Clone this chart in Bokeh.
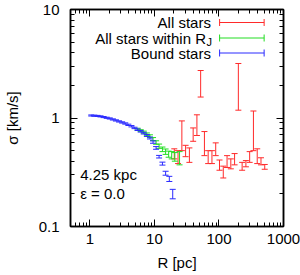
import numpy as np
from bokeh.plotting import figure
from bokeh.models import (ColumnDataSource, Whisker, TeeHead, LogAxis, FixedTicker,
                          CustomJSTickFormatter, Label, Arrow, Range1d)
from bokeh.embed import file_html
from bokeh.resources import INLINE

# ---------------- data ----------------
# All stars (red)
R_all = [20.3, 23.2, 26.6, 30.4, 34.8, 39.8, 45.5, 52.0, 59.5, 68.0, 77.8, 89.0, 101.9,
         116.6, 133.4, 152.6, 174.6, 199.7, 228.5, 261.4, 299.0, 342.0, 391.5, 448.0, 512.0]
sig_all = [0.47, 0.44, 0.72, 0.50, 0.46, 0.71, 0.88, 2.15, 0.60, 0.44, 0.44, 0.52, 0.37,
           0.32, 0.40, 0.38, 0.42, 2.18, 0.36, 0.38, 0.44, 0.83, 0.45, 0.40, 0.355]
err_all = [0.05, 0.06, 0.22, 0.06, 0.07, 0.10, 0.19, 0.59, 0.15, 0.06, 0.06, 0.07, 0.04,
           0.04, 0.05, 0.04, 0.05, 1.00, 0.03, 0.025, 0.05, 0.33, 0.07, 0.03, 0.018]

# All stars within R_J (green)
R_rj = [5.48, 6.12, 6.83, 7.63, 8.52, 9.51, 10.6, 11.8, 13.3, 14.9, 16.6, 18.5, 20.7, 24.5]
sig_rj = [0.79, 0.765, 0.74, 0.71, 0.68, 0.64, 0.595, 0.55, 0.515, 0.49, 0.465, 0.455, 0.44, 0.43]
err_rj = [0.015, 0.015, 0.017, 0.018, 0.02, 0.02, 0.022, 0.025, 0.025, 0.028, 0.03, 0.035, 0.04, 0.06]

# Bound stars (blue)
R_b = [1.05, 1.17, 1.31, 1.46, 1.63, 1.82, 2.03, 2.27, 2.53, 2.83, 3.16, 3.53, 3.94, 4.40,
       4.91, 5.48, 6.12, 6.83, 7.63, 8.52, 9.51, 10.6, 11.8, 13.3, 14.9, 17.0, 19.2]
sig_b = [1.055, 1.05, 1.045, 1.035, 1.02, 1.005, 0.99, 0.97, 0.95, 0.93, 0.91, 0.89, 0.865,
         0.84, 0.81, 0.78, 0.755, 0.725, 0.69, 0.655, 0.60, 0.53, 0.44, 0.38, 0.31, 0.275, 0.20]
err_b = [0.012, 0.012, 0.012, 0.012, 0.012, 0.012, 0.012, 0.012, 0.012, 0.012, 0.012, 0.012,
         0.012, 0.012, 0.012, 0.013, 0.013, 0.013, 0.014, 0.014, 0.015, 0.015, 0.012, 0.012,
         0.013, 0.015, 0.02]

x_ticks = [1, 10, 100, 1000]
y_ticks = [0.1, 1, 10]

RED, GREEN, BLUE = "#ff2a2a", "#22dd22", "#2a2aff"
FONT = "Liberation Sans"

# ---------------- figure ----------------
W, H = 300, 275
ML, MR, MT, MB = 63, 17, 9, 49
p = figure(width=W, height=H, x_axis_type="log", y_axis_type="log",
           x_range=Range1d(0.5, 1000), y_range=Range1d(0.1, 10),
           output_backend="svg", toolbar_location=None,
           min_border_left=ML, min_border_right=MR, min_border_top=MT, min_border_bottom=MB)
p.grid.visible = False
p.outline_line_color = "black"
p.outline_line_width = 1.5
p.background_fill_color = "white"
p.border_fill_color = "white"

x_minor = [m * d for d in (0.1, 1, 10, 100) for m in range(2, 10) if 0.5 <= m * d <= 1000]
y_minor = [m * d for d in (0.1, 1) for m in range(2, 10)]
xt = FixedTicker(ticks=x_ticks, minor_ticks=x_minor)
yt = FixedTicker(ticks=y_ticks, minor_ticks=y_minor)
fmt = CustomJSTickFormatter(code="return tick.toString();")
blank = CustomJSTickFormatter(code="return '';")


def style_axis(ax, show_labels):
    ax.major_tick_in = 7
    ax.major_tick_out = 0
    ax.minor_tick_in = 4
    ax.minor_tick_out = 0
    ax.axis_line_width = 1.5
    ax.axis_line_color = "black"
    ax.major_tick_line_color = "black"
    ax.minor_tick_line_color = "black"
    ax.major_tick_line_width = 1
    ax.minor_tick_line_width = 1
    if show_labels:
        ax.major_label_text_font = FONT
        ax.major_label_text_font_size = "15px"
        ax.major_label_text_color = "black"
        ax.axis_label_text_font = FONT
        ax.axis_label_text_font_size = "15px"
        ax.axis_label_text_font_style = "normal"
        ax.axis_label_text_color = "black"
    else:
        ax.major_label_text_font_size = "0px"
        ax.major_label_standoff = 0


xa = p.xaxis[0]
xa.ticker = xt
xa.formatter = fmt
style_axis(xa, True)
xa.major_label_standoff = 7
xa.axis_label = "R [pc]"
xa.axis_label_standoff = 7

ya = p.yaxis[0]
ya.ticker = yt
ya.formatter = fmt
style_axis(ya, True)
ya.major_label_standoff = 11
ya.axis_label = "σ [km/s]"
ya.axis_label_standoff = 15

ra = LogAxis(ticker=yt, formatter=blank)
style_axis(ra, False)
p.add_layout(ra, "right")
ta = LogAxis(ticker=xt, formatter=blank)
style_axis(ta, False)
p.add_layout(ta, "above")

# invisible renderer to keep ranges sensible
p.scatter(R_b, sig_b, size=0, alpha=0)


def add_bars(R, s, e, color):
    src = ColumnDataSource(dict(x=R, lo=[a - b for a, b in zip(s, e)], hi=[a + b for a, b in zip(s, e)]))
    w = Whisker(source=src, base="x", lower="lo", upper="hi", dimension="height",
                line_color=color, line_width=1, level="glyph",
                lower_head=TeeHead(size=6, line_color=color, line_width=1),
                upper_head=TeeHead(size=6, line_color=color, line_width=1))
    p.add_layout(w)


add_bars(R_all, sig_all, err_all, RED)
add_bars(R_rj, sig_rj, err_rj, GREEN)
add_bars(R_b, sig_b, err_b, BLUE)

# ---------------- screen-pixel helpers for annotations ----------------
FL, FR, FT, FB = ML, W - MR, MT, H - MB
FX = (FR - FL) / np.log10(2000.0)
FY = (FB - FT) / 2.0


def px2x(px):
    return 10 ** ((px - FL) / FX + np.log10(0.5))


def py2y(py):
    return 10 ** ((FB - py) / FY - 1)


rows = [22, 37.5, 52.5]
names = ["All stars", "All stars within R", "Bound stars"]
cols = [RED, GREEN, BLUE]
for ry, nm, c in zip(rows, names, cols):
    tx = 203 if nm.endswith("R") else 208
    p.add_layout(Label(x=px2x(tx), y=py2y(ry), text=nm, text_align="right",
                       text_baseline="middle", text_font=FONT, text_font_size="15px",
                       text_color="black"))
    p.add_layout(Arrow(x_start=px2x(217), y_start=py2y(ry), x_end=px2x(263), y_end=py2y(ry),
                       line_color=c, line_width=1,
                       start=TeeHead(size=7, line_color=c, line_width=1),
                       end=TeeHead(size=7, line_color=c, line_width=1)))
p.add_layout(Label(x=px2x(203.5), y=py2y(rows[1] + 4), text="J", text_align="left",
                   text_baseline="middle", text_font=FONT, text_font_size="11px",
                   text_color="black"))

p.add_layout(Label(x=px2x(73), y=py2y(174), text="4.25 kpc", text_align="left",
                   text_baseline="middle", text_font=FONT, text_font_size="15px",
                   text_color="black"))
p.add_layout(Label(x=px2x(73), y=py2y(193), text="ε = 0.0", text_align="left",
                   text_baseline="middle", text_font=FONT, text_font_size="15px",
                   text_color="black"))

open("out.html", "w").write(file_html(p, INLINE))
